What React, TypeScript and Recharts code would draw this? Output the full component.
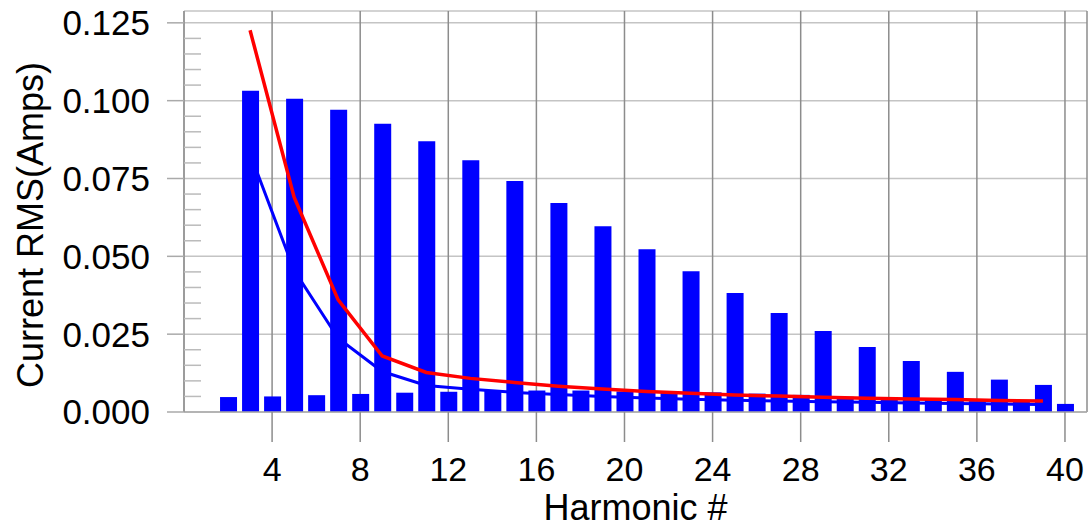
import React from 'react';
import { ComposedChart, Bar, Line, XAxis, YAxis, CartesianGrid, Label } from 'recharts';

const harmonics = [2, 3, 4, 5, 6, 7, 8, 9, 10, 11, 12, 13, 14, 15, 16, 17, 18, 19, 20, 21, 22, 23, 24, 25, 26, 27, 28, 29, 30, 31, 32, 33, 34, 35, 36, 37, 38, 39, 40];
const measuredCurrent = [
  0.0048, 0.1032, 0.0050, 0.1006, 0.0054, 0.0971, 0.0058, 0.0926, 0.0062, 0.0870,
  0.0065, 0.0809, 0.0069, 0.0742, 0.0069, 0.0671, 0.0069, 0.0597, 0.0066, 0.0523,
  0.0066, 0.0452, 0.0063, 0.0382, 0.0059, 0.0318, 0.0055, 0.0260, 0.0049, 0.0209,
  0.0043, 0.0164, 0.0039, 0.0129, 0.0035, 0.0104, 0.0032, 0.0087, 0.0026,
];
const limitHarmonics = [3, 5, 7, 9, 11, 13, 15, 17, 19, 21, 23, 25, 27, 29, 31, 33, 35, 37, 39];
const redLimit = [0.1226, 0.0690, 0.0360, 0.0180, 0.0127, 0.0108, 0.0095, 0.0083, 0.0074, 0.0066, 0.0060, 0.0055, 0.0051, 0.0047, 0.0044, 0.0042, 0.0040, 0.0037, 0.0035];
const blueLimit = [0.0830, 0.0455, 0.0237, 0.0130, 0.0085, 0.0073, 0.0063, 0.0056, 0.0050, 0.0045, 0.0041, 0.0038, 0.0035, 0.0033, 0.0031, 0.0029, 0.0027, 0.0026, 0.0024];
const xTicks = [4, 8, 12, 16, 20, 24, 28, 32, 36, 40];
const yTicks = [0, 0.025, 0.05, 0.075, 0.1, 0.125];
const yMinorTicks = [
  0.005, 0.01, 0.015, 0.02, 0.03, 0.035, 0.04, 0.045, 0.055, 0.06, 0.065, 0.07,
  0.08, 0.085, 0.09, 0.095, 0.105, 0.11, 0.115, 0.12,
];

const data = harmonics.map((h, i) => {
  const j = limitHarmonics.indexOf(h);
  return {
    h,
    current: measuredCurrent[i],
    red: j >= 0 ? redLimit[j] : null,
    blue: j >= 0 ? blueLimit[j] : null,
  };
});

const FONT = '"Liberation Sans", Arial, Helvetica, sans-serif';
const X_DOMAIN: [number, number] = [0, 41];
const Y_DOMAIN: [number, number] = [0, 0.1288];

export default function App() {
  return (
    <div style={{ position: 'absolute', left: 0, top: 0, width: 1090, height: 523, background: '#ffffff' }}>
      <ComposedChart
        width={1090}
        height={523}
        data={data}
        margin={{ top: 11, right: 3, bottom: 0, left: 0 }}
        style={{ fontFamily: FONT }}
      >
        <CartesianGrid horizontal={true} vertical={false} stroke="#c4c4c4" strokeWidth={1.5} />
        <CartesianGrid horizontal={false} vertical={true} stroke="#8c8c8c" strokeWidth={1.5} />
        <XAxis
          dataKey="h"
          type="number"
          domain={X_DOMAIN}
          ticks={xTicks}
          interval={0}
          allowDataOverflow
          height={111}
          tickSize={30}
          tickMargin={15}
          axisLine={{ stroke: '#aaaaaa', strokeWidth: 1.5 }}
          tickLine={{ stroke: '#8c8c8c', strokeWidth: 1.5 }}
          tick={{ fill: '#000000', fontSize: 34, fontFamily: FONT }}
        >
          <Label value="Harmonic #" position="insideBottom" offset={3} fill="#000000" fontSize={36} fontFamily={FONT} />
        </XAxis>
        <XAxis
          xAxisId="top"
          orientation="top"
          type="number"
          domain={X_DOMAIN}
          height={0}
          tick={false}
          tickLine={false}
          axisLine={{ stroke: '#c4c4c4', strokeWidth: 1.5 }}
        />
        <YAxis
          type="number"
          domain={Y_DOMAIN}
          ticks={yTicks}
          interval={0}
          allowDataOverflow
          width={184}
          tickSize={17}
          tickMargin={17}
          tickFormatter={(v: number) => v.toFixed(3)}
          axisLine={{ stroke: '#999999', strokeWidth: 1.5 }}
          tickLine={{ stroke: '#aaaaaa', strokeWidth: 1.5 }}
          tick={{ fill: '#000000', fontSize: 35, fontFamily: FONT }}
        >
          <Label
            content={() => (
              <text
                x={43}
                y={225}
                transform="rotate(-90, 43, 225)"
                textAnchor="middle"
                fill="#000000"
                fontSize={36}
                fontFamily={FONT}
              >
                Current RMS(Amps)
              </text>
            )}
          />
        </YAxis>
        <YAxis
          yAxisId="minor"
          type="number"
          domain={Y_DOMAIN}
          ticks={yMinorTicks}
          interval={0}
          allowDataOverflow
          mirror
          width={1}
          tickSize={17}
          tickFormatter={() => ''}
          tick={{ fontSize: 1, fill: 'none' }}
          axisLine={false}
          tickLine={{ stroke: '#bbbbbb', strokeWidth: 1.5 }}
        />
        <YAxis
          yAxisId="right"
          orientation="right"
          type="number"
          domain={Y_DOMAIN}
          width={0}
          tick={false}
          tickLine={false}
          axisLine={{ stroke: '#8c8c8c', strokeWidth: 1.5 }}
        />
        <Line
          type="linear"
          dataKey="blue"
          stroke="#0000ff"
          strokeWidth={3}
          dot={false}
          connectNulls
          isAnimationActive={false}
        />
        <Bar dataKey="current" fill="#0000ff" barSize={17} isAnimationActive={false} />
        <Line
          type="linear"
          dataKey="red"
          stroke="#ff0000"
          strokeWidth={3.5}
          dot={false}
          connectNulls
          isAnimationActive={false}
        />
      </ComposedChart>
    </div>
  );
}
